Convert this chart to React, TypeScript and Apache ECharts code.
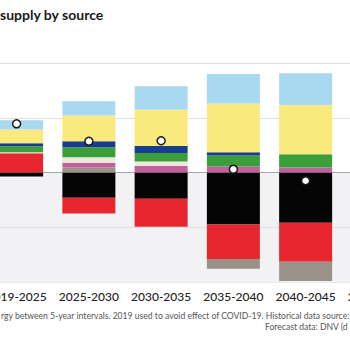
import React, { useEffect, useRef } from "react";
import * as echarts from "echarts";

const categories = ["2019-2025", "2025-2030", "2030-2035", "2035-2040", "2040-2045", "2045-2050"];
const coal = [-0.075, -0.46, -0.48, -0.95, -0.92];
const oil = [0.35, -0.29, -0.51, -0.63, -0.71];
const gas = [0, 0.09, 0, -0.18, -0.35];
const nuclear = [0, 0.09, 0.12, 0.11, 0.09];
const other = [0.02, 0.1, 0.08, 0, 0];
const biomass = [0.11, 0.18, 0.155, 0.2, 0.245];
const hydro = [0.055, 0.11, 0.13, 0.06, 0];
const solar = [0.25, 0.47, 0.66, 0.89, 0.9];
const wind = [0.17, 0.26, 0.43, 0.54, 0.58];
const netChange = [0.89, 0.57, 0.58, 0.06, -0.15];

const seriesDefs: [string, number[], string][] = [
  ["Coal", coal, "#050505"],
  ["Oil", oil, "#e8262f"],
  ["Gas", gas, "#9a9189"],
  ["Nuclear", nuclear, "#c0609c"],
  ["Other", other, "#efe6dc"],
  ["Biomass", biomass, "#3c9e3a"],
  ["Hydro", hydro, "#163d8e"],
  ["Solar", solar, "#fae97c"],
  ["Wind", wind, "#a9d8f1"],
];

const OFFSET = 30;

export default function App() {
  const ref = useRef<HTMLDivElement>(null);
  useEffect(() => {
    if (!ref.current) return;
    const chart = echarts.init(ref.current, null, { renderer: "svg" });
    const font = "Lato, 'Noto Sans', sans-serif";
    chart.setOption({
      animation: false,
      backgroundColor: "#ffffff",
      grid: { left: OFFSET - 19.5, top: 63, width: 433.5, height: 219, containLabel: false },
      xAxis: {
        type: "category",
        data: categories,
        axisLine: { show: false, onZero: false },
        axisTick: { show: false },
        splitLine: { show: false },
        axisLabel: { color: "#222", fontSize: 12, fontFamily: font, fontWeight: 500, margin: 8, interval: 0 },
      },
      yAxis: {
        type: "value",
        min: -2,
        max: 2,
        interval: 1,
        axisLabel: { show: false },
        axisLine: { show: false },
        axisTick: { show: false },
        splitLine: {
          show: true,
          lineStyle: { color: ["#eaeaea", "#dedede", "#a6a6a6", "#dedede", "#dedede"], width: 1 },
        },
        splitArea: {
          show: true,
          areaStyle: { color: ["#f2f2f4", "#f2f2f4", "#ffffff", "#ffffff"] },
        },
      },
      series: [
        ...seriesDefs.map(([name, data, color]) => ({
          name,
          type: "bar",
          stack: "total",
          barWidth: 53,
          data,
          itemStyle: { color },
          z: 2,
        })),
        {
          name: "Net change",
          type: "scatter",
          data: netChange,
          symbol: "circle",
          symbolSize: 8,
          itemStyle: { color: "#ffffff", borderColor: "#1a1a1a", borderWidth: 1.5, opacity: 1 },
          z: 5,
        },
      ],
      graphic: [
        {
          type: "text",
          left: OFFSET,
          top: 7,
          style: { text: "supply by source", fill: "#1a1a1a", font: `bold 14px ${font}` },
        },
        {
          type: "text",
          left: OFFSET + 1,
          top: 311,
          style: {
            text: "rgy between 5-year intervals. 2019 used to avoid effect of COVID-19. Historical data source:",
            fill: "#555",
            font: `8.6px ${font}`,
          },
        },
        {
          type: "text",
          left: OFFSET + 265,
          top: 322,
          style: { text: "Forecast data: DNV (d", fill: "#555", font: `8.6px ${font}` },
        },
      ],
    });
    return () => chart.dispose();
  }, []);
  return (
    <div style={{ position: "fixed", left: 0, top: 0, width: 350, height: 350, overflow: "hidden", background: "#fff" }}>
      <div ref={ref} style={{ position: "absolute", left: -OFFSET, top: 0, width: 480, height: 350 }} />
    </div>
  );
}
